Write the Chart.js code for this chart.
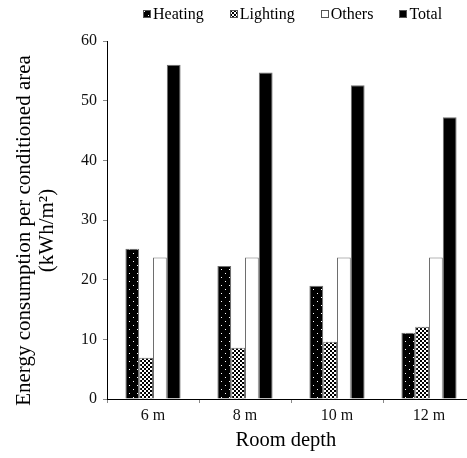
<!DOCTYPE html>
<html>
<head>
<meta charset="utf-8">
<script src="https://cdn.jsdelivr.net/npm/chart.js@4/dist/chart.umd.min.js"></script>
<style>
  html, body { margin: 0; padding: 0; background: #fff; overflow: hidden; }
  #wrap { position: relative; width: 467px; height: 458px; overflow: hidden; }
  #grafico { position: absolute; left: 0; top: 0; }
  #leyenda {
    position: absolute; left: 143px; top: 5px; display: flex; align-items: center; gap: 26px;
    font-family: "Liberation Serif", "Times New Roman", serif; font-size: 16px; line-height: 18px; color: #000;
  }
  #leyenda .item { display: flex; align-items: center; }
  #leyenda canvas { margin-right: 2px; }
</style>
</head>
<body>
<div id="wrap">
  <canvas id="grafico" width="480" height="458"></canvas>
  <div id="leyenda"></div>
</div>
<script>
const categorias = ["6 m", "8 m", "10 m", "12 m"];
const series = ["Heating", "Lighting", "Others", "Total"];
const heating = [25.2, 22.3, 19.0, 11.1];
const lighting = [6.9, 8.6, 9.6, 12.1];
const others = [23.7, 23.7, 23.7, 23.7];
const total = [56.0, 54.7, 52.6, 47.2];
const yMin = 0, yMax = 60, yPaso = 10;

const fuente = "'Liberation Serif', 'Times New Roman', serif";

function patronPuntos(ctx) {
  const c = document.createElement("canvas");
  c.width = 8; c.height = 8;
  const g = c.getContext("2d");
  g.fillStyle = "#000";
  g.fillRect(0, 0, 8, 8);
  g.fillStyle = "#fff";
  g.fillRect(1, 1, 1, 1);
  g.fillRect(5, 5, 1, 1);
  return ctx.createPattern(c, "repeat");
}

function patronCuadros(ctx) {
  const c = document.createElement("canvas");
  c.width = 4; c.height = 4;
  const g = c.getContext("2d");
  g.fillStyle = "#fff";
  g.fillRect(0, 0, 4, 4);
  g.fillStyle = "#000";
  g.fillRect(0, 0, 2, 2);
  g.fillRect(2, 2, 2, 2);
  return ctx.createPattern(c, "repeat");
}

const ctx = document.getElementById("grafico").getContext("2d");
const rellenos = [patronPuntos(ctx), patronCuadros(ctx), "#ffffff", "#000000"];
const valores = [heating, lighting, others, total];

// leyenda en HTML con las mismas texturas
const leyenda = document.getElementById("leyenda");
series.forEach(function (nombre, i) {
  const item = document.createElement("div");
  item.className = "item";
  const cuadro = document.createElement("canvas");
  cuadro.width = 8; cuadro.height = 8;
  const g = cuadro.getContext("2d");
  g.fillStyle = i === 0 ? patronPuntos(g) : i === 1 ? patronCuadros(g) : rellenos[i];
  g.fillRect(0, 0, 8, 8);
  g.strokeStyle = "#555";
  g.lineWidth = 1;
  g.strokeRect(0.5, 0.5, 7, 7);
  item.appendChild(cuadro);
  const txt = document.createElement("span");
  txt.textContent = nombre;
  item.appendChild(txt);
  leyenda.appendChild(item);
});

const chart = new Chart(ctx, {
  type: "bar",
  data: {
    labels: categorias,
    datasets: series.map(function (nombre, i) {
      return {
        label: nombre,
        data: valores[i],
        backgroundColor: rellenos[i],
        borderColor: "#6e6e6e",
        borderWidth: 1,
        categoryPercentage: 0.6,
        barPercentage: 1.0
      };
    })
  },
  options: {
    responsive: false,
    animation: false,
    devicePixelRatio: 1,
    layout: { padding: { top: 41, right: 5, left: 0, bottom: 0 } },
    plugins: {
      legend: { display: false },
      tooltip: { enabled: false }
    },
    scales: {
      x: {
        afterFit: function (s) { s.height = 59; },
        grid: { drawOnChartArea: false, tickLength: 4, tickColor: "#888", offset: true },
        border: { color: "#000", width: 1 },
        ticks: { color: "#111", font: { family: fuente, size: 16 }, padding: 3 },
        title: {
          display: true,
          text: "Room depth  ",
          color: "#000",
          font: { family: fuente, size: 20.5, lineHeight: 1.2 },
          padding: { top: 0, bottom: 5 }
        }
      },
      y: {
        min: yMin,
        max: yMax,
        afterFit: function (s) { s.width = 107; },
        grid: { drawOnChartArea: false, tickLength: 4, tickColor: "#888" },
        border: { color: "#000", width: 1 },
        ticks: { stepSize: yPaso, color: "#111", font: { family: fuente, size: 16 }, padding: 6 },
        title: {
          display: true,
          // espacios al final para bajar un poco el texto como en el original
          text: ["Energy consumption per conditioned area    ", "(kWh/m\u00B2)    "],
          color: "#000",
          font: { family: fuente, size: 21, lineHeight: 1.1 },
          padding: { top: 13, bottom: 0 }
        }
      }
    }
  }
});
</script>
</body>
</html>
